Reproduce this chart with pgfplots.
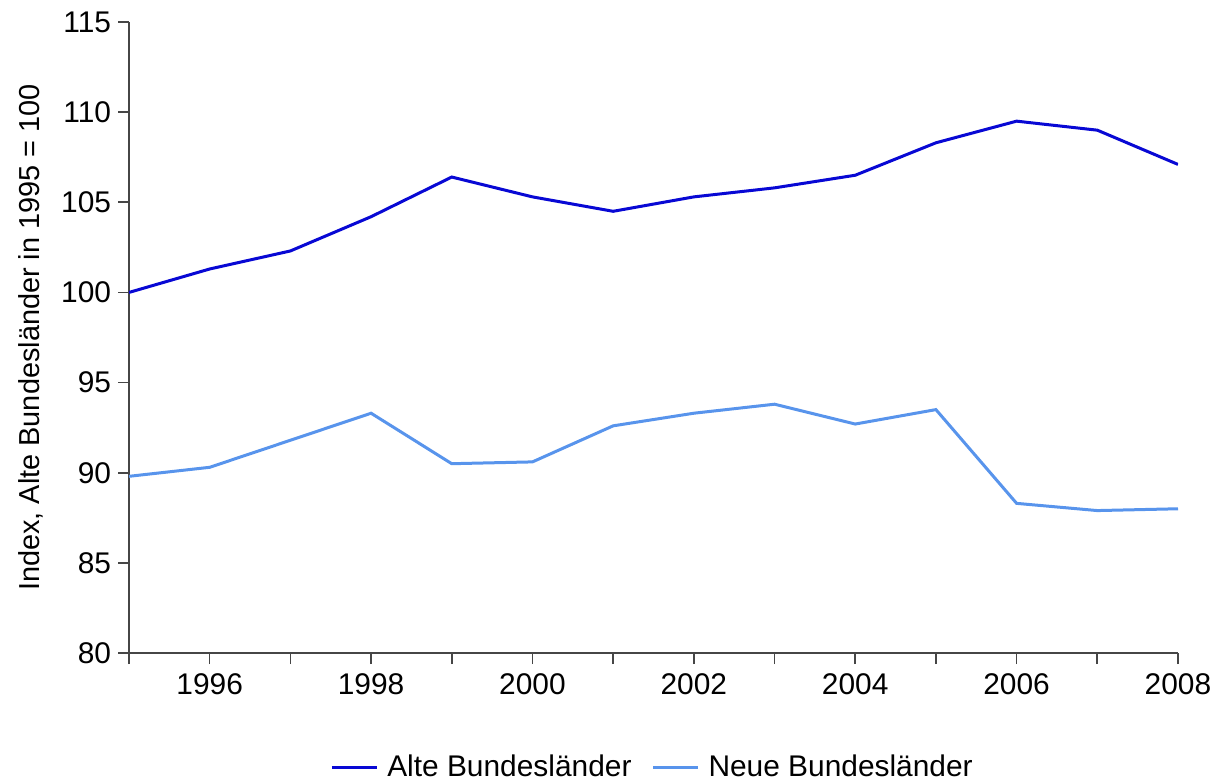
\documentclass[border=0pt]{standalone}
\usepackage{fontspec}
\setmainfont{Liberation Sans}
\usepackage{pgfplots}
\pgfplotsset{compat=1.18}
\definecolor{alte}{RGB}{8,8,212}
\definecolor{neue}{RGB}{88,148,236}
\definecolor{axgray}{RGB}{70,70,70}

\begin{document}
\begin{tikzpicture}
\begin{axis}[
    scale only axis,
    width=524.5bp, height=315.5bp,
    xmin=1995, xmax=2008,
    ymin=80, ymax=115,
    axis x line=bottom,
    axis y line=left,
    axis line style={-, axgray, line width=0.8bp},
    xtick={1995,...,2008},
    xticklabels={,1996,,1998,,2000,,2002,,2004,,2006,,2008},
    ytick={80,85,...,115},
    tick align=outside,
    major tick length=5.5bp,
    tick style={axgray, line width=0.8bp},
    /pgf/number format/assume math mode=true,
    ticklabel style={font=\fontsize{15}{17}\selectfont},
    xticklabel style={yshift=-1.5bp},
    ylabel={Index, Alte Bundesländer in 1995 = 100},
    every axis y label/.style={at={(axis description cs:0,0.5)}, xshift=-49bp,
        rotate=90, anchor=center, font=\fontsize{14.5}{16}\selectfont},
    legend columns=2,
    legend style={at={(axis description cs:0.5,0)}, yshift=-57bp, anchor=center,
        draw=none, font=\fontsize{15}{17}\selectfont,
        /tikz/every even column/.append style={column sep=8bp}},
    legend image code/.code={\draw[#1] (0bp,0bp) -- (22.5bp,0bp); \path (25bp,0bp);},
  ]
  % Alte Bundeslaender
  \addplot[alte, line width=1.5bp, mark=none] coordinates {
    (1995,100.0) (1996,101.3) (1997,102.3) (1998,104.2) (1999,106.4)
    (2000,105.3) (2001,104.5) (2002,105.3) (2003,105.8) (2004,106.5)
    (2005,108.3) (2006,109.5) (2007,109.0) (2008,107.1)
  };
  \addlegendentry{Alte Bundesländer}
  % Neue Bundeslaender
  \addplot[neue, line width=1.5bp, mark=none] coordinates {
    (1995,89.8) (1996,90.3) (1997,91.8) (1998,93.3) (1999,90.5)
    (2000,90.6) (2001,92.6) (2002,93.3) (2003,93.8) (2004,92.7)
    (2005,93.5) (2006,88.3) (2007,87.9) (2008,88.0)
  };
  \addlegendentry{Neue Bundesländer}
\end{axis}
\pgfresetboundingbox
\path[use as bounding box] (-64.5bp,-63.5bp) rectangle (542.5bp,326.5bp);
\end{tikzpicture}
\end{document}
